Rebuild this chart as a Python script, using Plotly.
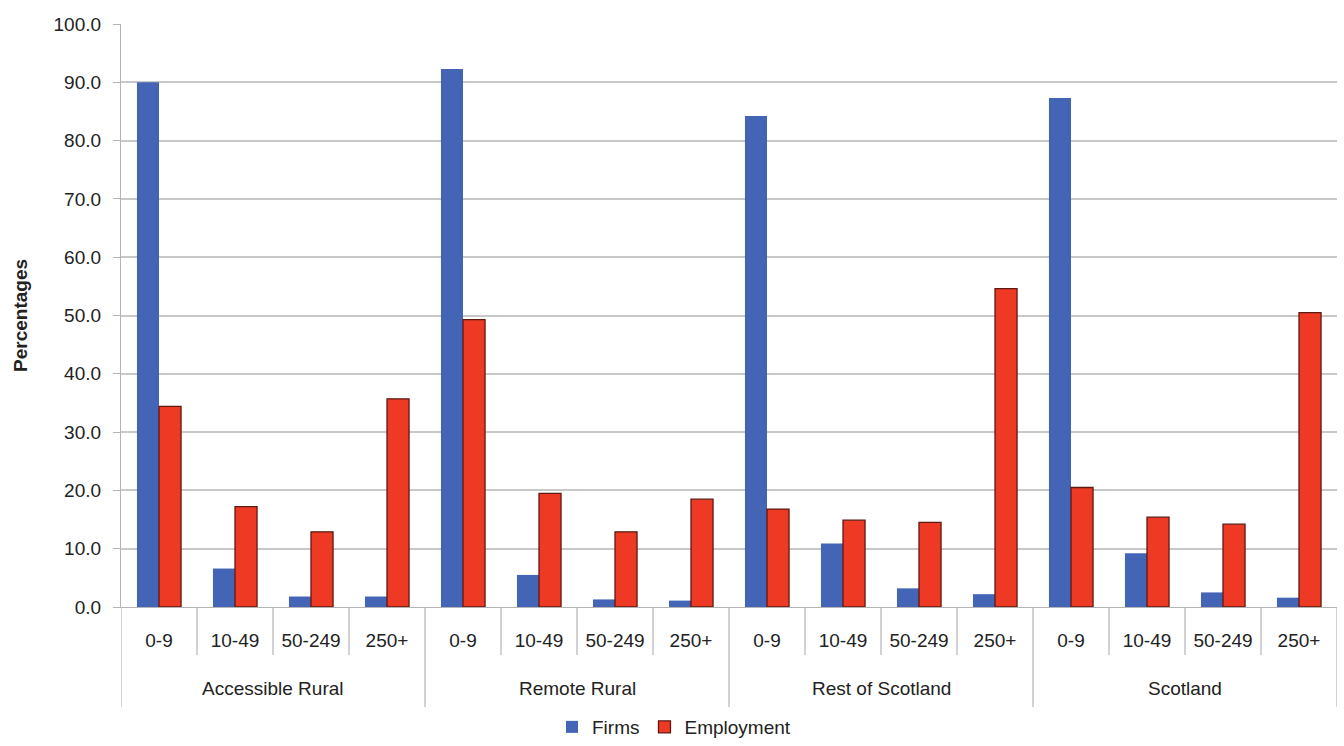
import plotly.graph_objects as go

# Business size bands within each area
areas = ["Accessible Rural", "Remote Rural", "Rest of Scotland", "Scotland"]
size_bands = ["0-9", "10-49", "50-249", "250+"]

# Percentages by area, in size-band order
firms = {
    "Accessible Rural": [90.0, 6.6, 1.8, 1.8],
    "Remote Rural": [92.3, 5.5, 1.3, 1.1],
    "Rest of Scotland": [84.2, 10.9, 3.2, 2.2],
    "Scotland": [87.3, 9.2, 2.5, 1.6],
}
employment = {
    "Accessible Rural": [34.4, 17.2, 12.9, 35.7],
    "Remote Rural": [49.3, 19.5, 12.9, 18.5],
    "Rest of Scotland": [16.8, 14.9, 14.5, 54.6],
    "Scotland": [20.5, 15.4, 14.2, 50.5],
}

y_ticks = [0, 10, 20, 30, 40, 50, 60, 70, 80, 90, 100]

# One unique category per (area, band); the band name is shown as tick text
keys = [f"{a} | {b}" for a in areas for b in size_bands]
band_text = [b for _ in areas for b in size_bands]
firms_vals = [v for a in areas for v in firms[a]]
emp_vals = [v for a in areas for v in employment[a]]

font_family = "Liberation Sans, Arial, sans-serif"
text_color = "#222222"
grey = "#b4b4b4"

# Pixel geometry of the plotting area, used to place the category furniture
fig_w, fig_h = 1344, 746
m_left, m_right, m_top, m_bottom = 121, 7, 24, 139
plot_w = fig_w - m_left - m_right
plot_h = fig_h - m_top - m_bottom
def below_axis(px):
    return -px / plot_h

fig = go.Figure()
fig.add_trace(go.Bar(
    name="Firms",
    x=keys,
    y=firms_vals,
    marker=dict(color="#4464B6", line=dict(width=0)),
))
fig.add_trace(go.Bar(
    name="Employment",
    x=keys,
    y=emp_vals,
    marker=dict(color="#EE3A24", line=dict(color="#5C1A12", width=1.3)),
))

# Separators between size bands and longer dividers between areas
n_bands = len(size_bands)
shapes = []
for i in range(len(keys) + 1):
    is_group_edge = i % n_bands == 0
    shapes.append(dict(
        type="line",
        xref="x", yref="paper",
        x0=i - 0.5, x1=i - 0.5,
        y0=0, y1=below_axis(100 if is_group_edge else 48),
        line=dict(color=grey, width=1.2),
        layer="below",
    ))

# Area names centred under their size bands
annotations = []
for g, area in enumerate(areas):
    annotations.append(dict(
        text=area,
        xref="x", yref="paper",
        x=g * n_bands + (n_bands - 1) / 2,
        y=below_axis(81),
        xanchor="center", yanchor="middle",
        showarrow=False,
        font=dict(size=19, color=text_color, family=font_family),
    ))

fig.update_layout(
    width=fig_w,
    height=fig_h,
    margin=dict(l=m_left, r=m_right, t=m_top, b=m_bottom),
    paper_bgcolor="white",
    plot_bgcolor="white",
    barmode="group",
    bargap=0.42,
    bargroupgap=0,
    font=dict(family=font_family, size=19, color=text_color),
    showlegend=True,
    legend=dict(
        orientation="h",
        x=(674 - m_left) / plot_w,
        xanchor="center",
        xref="paper",
        yref="container",
        y=0.0,
        yanchor="bottom",
        font=dict(size=19),
        itemwidth=30,
    ),
    shapes=shapes,
    annotations=annotations,
)

fig.update_yaxes(
    range=[0, 100],
    tickvals=y_ticks,
    tickformat=".1f",
    showgrid=True,
    gridcolor="#c8c8c8",
    gridwidth=1.5,
    zeroline=False,
    showline=True,
    linecolor=grey,
    linewidth=1.2,
    ticks="outside",
    ticklen=7,
    tickcolor=grey,
    ticklabelstandoff=8,
    tickfont=dict(size=19, color=text_color),
    title=dict(
        text="<b>Percentages</b>",
        font=dict(size=19, color=text_color),
        standoff=20,
    ),
    automargin=False,
    fixedrange=True,
)

fig.update_xaxes(
    type="category",
    categoryorder="array",
    categoryarray=keys,
    tickmode="array",
    tickvals=keys,
    ticktext=band_text,
    range=[-0.5, len(keys) - 0.5],
    showline=True,
    linecolor=grey,
    linewidth=1.2,
    ticks="",
    ticklabelstandoff=16,
    tickfont=dict(size=19, color=text_color),
    showgrid=False,
    automargin=False,
    fixedrange=True,
)

fig.write_html("out.html")
